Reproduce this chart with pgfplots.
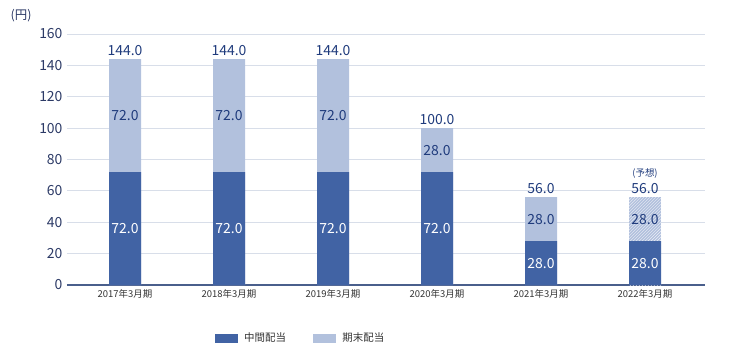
\documentclass[border=0pt]{standalone}
\usepackage{pgfplots}
\pgfplotsset{compat=1.18}
\usepackage{fontspec}
\setmainfont{Noto Sans CJK JP}
\usetikzlibrary{patterns}
\definecolor{darkbar}{HTML}{4163A4}
\definecolor{lightbar}{HTML}{B2C1DD}
\definecolor{gridcol}{HTML}{D8DEE9}
\definecolor{axiscol}{HTML}{4A5F8C}
\definecolor{navy}{HTML}{1F3B7C}
\definecolor{ycol}{HTML}{2C3A66}
\definecolor{xcol}{HTML}{333333}
\begin{document}
\begin{tikzpicture}
\useasboundingbox (-67bp,-75bp) rectangle (673bp,285bp);
\begin{axis}[
  at={(0,0)}, anchor=south west,
  scale only axis, width=638bp, height=251bp,
  xmin=-0.558, xmax=5.577, ymin=0, ymax=160,
  /pgf/number format/assume math mode=true,
  axis line style={draw=none},
  ytick={0,20,...,160},
  ymajorgrids, grid style={gridcol, line width=0.9bp},
  extra y ticks={0}, extra y tick labels={},
  extra y tick style={grid style={axiscol, line width=1.1bp}},
  major tick length=0pt, tick style={draw=none},
  xtick={0,1,2,3,4,5},
  xticklabels={2017年3月期,2018年3月期,2019年3月期,2020年3月期,2021年3月期,2022年3月期},
  x tick label style={font=\fontsize{9.5}{10}\selectfont, text=xcol, yshift=-1bp},
  y tick label style={font=\fontsize{14}{14}\selectfont, text=ycol, xshift=-1bp},
  clip=false,
  legend style={at={(axis description cs:0.366,-0.211)}, anchor=center,
    legend columns=2, draw=none, fill=none,
    font=\fontsize{10.5}{12}\selectfont, text=xcol,
    /tikz/every odd column/.append style={column sep=5bp},
    /tikz/every even column/.append style={column sep=25bp}},
  legend cell align=left,
]
% light (total) bars
\addplot[forget plot, ybar, bar width=32bp, bar shift=0pt, fill=lightbar, draw=none]
  coordinates {(0,144) (1,144) (2,144) (3,100) (4,56)};
\addplot[forget plot, ybar, bar width=32bp, bar shift=0pt, fill=lightbar, draw=none,
  postaction={pattern=north east lines, pattern color=white!75!lightbar}]
  coordinates {(5,56)};
% dark (interim) bars
\addplot[forget plot, ybar, bar width=32bp, bar shift=0pt, fill=darkbar, draw=none]
  coordinates {(0,72) (1,72) (2,72) (3,72) (4,28) (5,28)};
% labels inside dark segments
\addplot[forget plot, draw=none, mark=none, nodes near coords, point meta=explicit symbolic,
  every node near coord/.style={anchor=center, text=white, font=\fontsize{14}{14}\selectfont}]
  coordinates {(0,36) [72.0] (1,36) [72.0] (2,36) [72.0] (3,36) [72.0] (4,14) [28.0] (5,14) [28.0]};
% labels inside light segments
\addplot[forget plot, draw=none, mark=none, nodes near coords, point meta=explicit symbolic,
  every node near coord/.style={anchor=center, text=navy, font=\fontsize{14}{14}\selectfont}]
  coordinates {(0,108) [72.0] (1,108) [72.0] (2,108) [72.0] (3,86) [28.0] (4,42) [28.0] (5,42) [28.0]};
% totals
\addplot[forget plot, draw=none, mark=none, nodes near coords, point meta=explicit symbolic,
  every node near coord/.style={anchor=south, inner sep=3.5bp, text=navy, font=\fontsize{14}{14}\selectfont}]
  coordinates {(0,144) [144.0] (1,144) [144.0] (2,144) [144.0] (3,100) [100.0] (4,56) [56.0] (5,56) [56.0]};
% forecast note
\addplot[forget plot, draw=none, mark=none, nodes near coords, point meta=explicit symbolic,
  every node near coord/.style={anchor=south, yshift=18bp, inner sep=1bp, text=navy, font=\fontsize{9.5}{9.5}\selectfont}]
  coordinates {(5,56) [(予想)]};
\addlegendimage{legend image code/.code={\fill[darkbar] (0bp,-4bp) rectangle (22bp,4bp);}}
\addlegendentry{中間配当}
\addlegendimage{legend image code/.code={\fill[lightbar] (0bp,-4bp) rectangle (22bp,4bp);}}
\addlegendentry{期末配当}
\node[anchor=center, text=ycol, font=\fontsize{12.5}{12.5}\selectfont] at (axis description cs:-0.072,1.074) {(円)};
\end{axis}
\end{tikzpicture}
\end{document}
